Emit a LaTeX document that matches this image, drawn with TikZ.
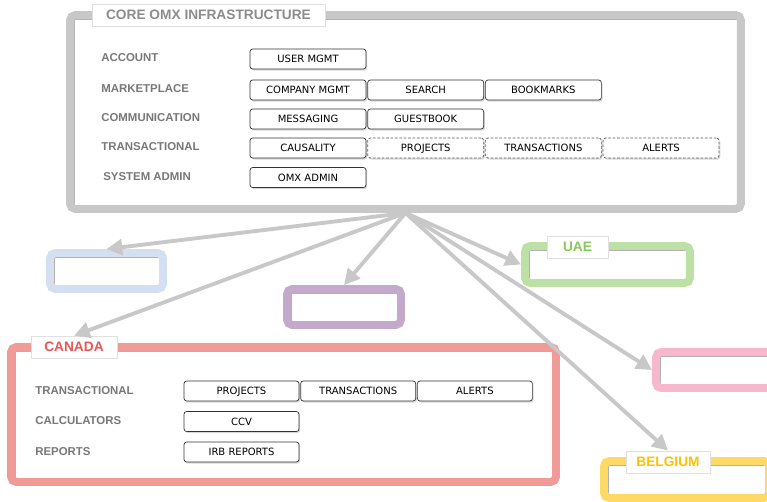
\documentclass[tikz,border=0pt]{standalone}
\usepackage{fontspec}
\setmainfont{Liberation Sans}
\newfontfamily\btnfont{DejaVu Sans}
\usetikzlibrary{arrows.meta,positioning,shadows}
\definecolor{framegray}{RGB}{200,200,200}
\definecolor{titlegray}{RGB}{140,140,140}
\definecolor{labelgray}{RGB}{120,120,120}
\definecolor{blueframe}{RGB}{212,224,242}
\definecolor{purpleframe}{RGB}{195,170,205}
\definecolor{canadaframe}{RGB}{240,155,152}
\definecolor{canadatext}{RGB}{235,85,85}
\definecolor{uaeframe}{RGB}{188,224,166}
\definecolor{uaetext}{RGB}{135,200,90}
\definecolor{pinkframe}{RGB}{247,183,204}
\definecolor{belgframe}{RGB}{255,217,102}
\definecolor{belgtext}{RGB}{255,192,0}

\begin{document}
\begin{tikzpicture}[x=0.02cm,y=-0.02cm,
region/.style={draw=#1,line width=4.5pt,rounded corners=3pt,fill=white,inner sep=0pt,
  path picture={\draw[black!30,line width=0.4pt,sharp corners]
    ([shift={(2.25pt,-2.25pt)}]path picture bounding box.north west) rectangle
    ([shift={(-2.25pt,2.25pt)}]path picture bounding box.south east);}},
flag/.style={draw=black!12,fill=white,minimum height=0.44cm,inner sep=0pt,text=#1,
  font=\bfseries\fontsize{7.8}{9}\selectfont},
lbl/.style={anchor=west,inner sep=0pt,text=labelgray,font=\bfseries\fontsize{6.5}{7}\selectfont},
btn/.style={draw=black!80,fill=white,rounded corners=1.5pt,minimum width=2.32cm,minimum height=0.4cm,
  inner sep=0pt,text height=4.2pt,text depth=0pt,font=\btnfont\fontsize{5.7}{6}\selectfont,
  drop shadow={shadow xshift=0.7pt,shadow yshift=-0.9pt,opacity=0.3}},
todo/.style={btn,draw=black!65,dash pattern=on 1.5pt off 1pt},
link/.style={draw=framegray,line width=2.2pt,-{Triangle[length=9pt,width=9pt]}}]

\useasboundingbox (0,0) rectangle (767,501);

% core platform
\node[region=framegray,minimum width=13.42cm,minimum height=3.88cm] (core) at (405.5,112) {};
\node[flag=titlegray,minimum width=4.66cm] (coretab) at (208.5,15) {CORE OMX INFRASTRUCTURE};

\node[lbl] (acc) at (101,58) {ACCOUNT};
\node[lbl] (mkt) at (101,89) {MARKETPLACE};
\node[lbl] (com) at (101,118) {COMMUNICATION};
\node[lbl] (trn) at (101,147) {TRANSACTIONAL};
\node[lbl] (sys) at (103,177) {SYSTEM ADMIN};

\node[btn] (user) at (308,59) {USER MGMT};
\node[btn] (comp) at (308,90) {COMPANY MGMT};
\node[btn,right=0.02cm of comp] (search) {SEARCH};
\node[btn,right=0.02cm of search] (bookm) {BOOKMARKS};
\node[btn] (msg) at (308,119) {MESSAGING};
\node[btn,right=0.02cm of msg] (guest) {GUESTBOOK};
\node[btn] (caus) at (308,148) {CAUSALITY};
\node[todo,right=0.02cm of caus] (proj) {PROJECTS};
\node[todo,right=0.02cm of proj] (trans) {TRANSACTIONS};
\node[todo,right=0.02cm of trans] (alert) {ALERTS};
\node[btn] (admin) at (308,177.5) {OMX ADMIN};

% country instances
\node[region=blueframe,minimum width=2.26cm,minimum height=0.72cm] (blue) at (106.5,271) {};
\node[region=purpleframe,minimum width=2.28cm,minimum height=0.72cm] (purple) at (344,307) {};
\node[region=uaeframe,minimum width=3.3cm,minimum height=0.74cm] (uae) at (607.5,264.5) {};
\node[flag=uaetext,minimum width=1.22cm] (uaetab) at (577.5,247) {UAE};
\node[region=pinkframe,minimum width=2.6cm,minimum height=0.72cm] (pink) at (721,370) {};
\node[region=belgframe,minimum width=3.3cm,minimum height=0.74cm] (belg) at (686.5,479.5) {};
\node[flag=belgtext,minimum width=1.68cm] (belgtab) at (668,462) {BELGIUM};

\node[region=canadaframe,minimum width=10.9cm,minimum height=2.7cm] (canada) at (283.5,414.5) {};
\node[flag=canadatext,minimum width=1.72cm] (canadatab) at (74,347) {CANADA};

\node[lbl] (ctrn) at (35,391) {TRANSACTIONAL};
\node[lbl] (ccalc) at (35,421) {CALCULATORS};
\node[lbl] (crep) at (35,452) {REPORTS};

\node[btn,minimum width=2.3cm] (cproj) at (241.5,391) {PROJECTS};
\node[btn,minimum width=2.3cm,right=0.02cm of cproj] (ctrans) {TRANSACTIONS};
\node[btn,minimum width=2.3cm,right=0.02cm of ctrans] (calert) {ALERTS};
\node[btn,minimum width=2.3cm] (ccv) at (241.5,421.5) {CCV};
\node[btn,minimum width=2.3cm] (irb) at (241.5,452) {IRB REPORTS};

\draw[link] (core.south) -- (blue.north);
\draw[link] (core.south) -- (purple.north);
\draw[link] (core.south) -- (canadatab.north);
\draw[link] (core.south) -- (uae.west);
\draw[link] (core.south) -- (pink.west);
\draw[link] (core.south) -- (belgtab.north);
\end{tikzpicture}
\end{document}
